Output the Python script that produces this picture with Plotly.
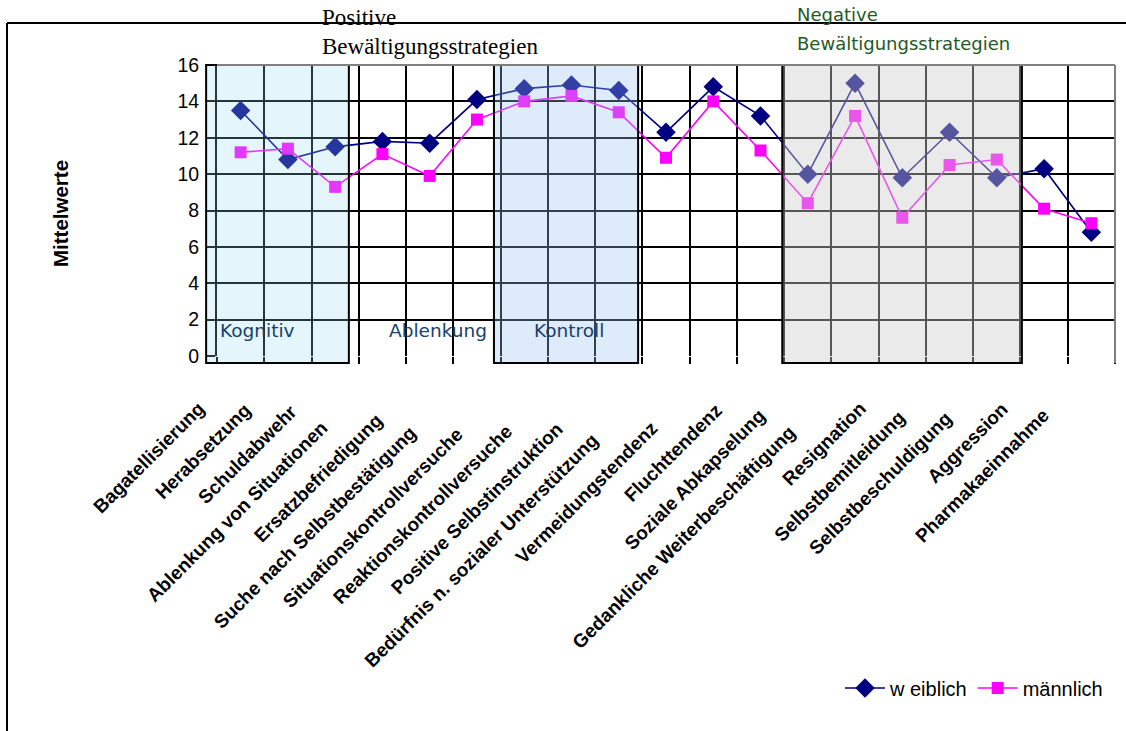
import plotly.graph_objects as go

# Bewältigungsstrategien (SVF-Skalen) und Mittelwerte nach Geschlecht
categories = [
    "Bagatellisierung", "Herabsetzung", "Schuldabwehr", "Ablenkung von Situationen",
    "Ersatzbefriedigung", "Suche nach Selbstbestätigung", "Situationskontrollversuche",
    "Reaktionskontrollversuche", "Positive Selbstinstruktion",
    "Bedürfnis n. sozialer Unterstützung", "Vermeidungstendenz", "Fluchttendenz",
    "Soziale Abkapselung", "Gedankliche Weiterbeschäftigung", "Resignation",
    "Selbstbemitleidung", "Selbstbeschuldigung", "Aggression", "Pharmakaeinnahme",
]
weiblich = [13.5, 10.8, 11.5, 11.8, 11.7, 14.1, 14.7, 14.9, 14.6, 12.3,
            14.8, 13.2, 10.0, 15.0, 9.8, 12.3, 9.8, 10.3, 6.8]
maennlich = [11.2, 11.4, 9.3, 11.1, 9.9, 13.0, 14.0, 14.3, 13.4, 10.9,
             14.0, 11.3, 8.4, 13.2, 7.6, 10.5, 10.8, 8.1, 7.3]
y_ticks = [0, 2, 4, 6, 8, 10, 12, 14, 16]

# extra distance (px, along the slanted text) between each category tick and its label
label_gap = [0, 2, 4, 27, 17, 35, 36, 33, 29, 45, 28, 3, 10, 34, 0, 13, 14, 0, 9]

W, H = 1126, 731
ML, MR, MT, MB = 217, 11, 65, 375
PW, PH = W - ML - MR, H - MT - MB
n = len(categories)
x_idx = list(range(n))


def px_x(px):
    return (px - ML) / PW


def px_y(py):
    return (H - MB - py) / PH


def cat_x(c):
    # category coordinate -> paper x
    return (c + 0.5) / n


fig = go.Figure()
fig.add_trace(go.Scatter(
    x=x_idx, y=weiblich, name="w eiblich", mode="lines+markers",
    line=dict(color="#000080", width=1.6),
    marker=dict(symbol="diamond", size=15, color="#000080"),
))
fig.add_trace(go.Scatter(
    x=x_idx, y=maennlich, name="männlich", mode="lines+markers",
    line=dict(color="#FF00FF", width=1.6),
    marker=dict(symbol="square", size=12, color="#FF00FF"),
))

shapes = []
# highlighted strategy groups
groups = [
    (-0.73, 2.29, "rgba(147,219,243,0.25)"),
    (5.36, 8.41, "rgba(153,195,243,0.33)"),
    (11.46, 16.53, "rgba(204,204,204,0.42)"),
]
y_bottom = -0.385 / 16
for c0, c1, fill in groups:
    shapes.append(dict(type="rect", xref="paper", yref="paper",
                       x0=cat_x(c0), x1=cat_x(c1), y0=y_bottom, y1=1,
                       fillcolor=fill, line=dict(color="black", width=2),
                       layer="above"))
# gray plot border (top/right)
shapes.append(dict(type="line", xref="paper", yref="paper", x0=0, x1=1, y0=1, y1=1,
                   line=dict(color="#808080", width=2), layer="above"))
shapes.append(dict(type="line", xref="paper", yref="paper", x0=1, x1=1,
                   y0=y_bottom, y1=1, line=dict(color="#808080", width=2),
                   layer="above"))
# outer frame
shapes.append(dict(type="line", xref="paper", yref="paper",
                   x0=px_x(7), x1=px_x(1130), y0=px_y(23), y1=px_y(23),
                   line=dict(color="black", width=2)))
shapes.append(dict(type="line", xref="paper", yref="paper",
                   x0=px_x(7), x1=px_x(7), y0=px_y(23), y1=px_y(740),
                   line=dict(color="black", width=2)))

annotations = []
for i, cat in enumerate(categories):
    d = label_gap[i] * 0.707
    annotations.append(dict(
        x=i, y=0, xref="x", yref="y", text=cat, showarrow=False,
        textangle=-45, xanchor="right", yanchor="top",
        xshift=-29 - d, yshift=-39 - d,
        font=dict(family="Liberation Sans, Arial", size=19, color="black",
                  weight="bold"),
    ))

group_font = dict(family="DejaVu Sans, Verdana", size=18.5, color="#17406d")
for label, left in [("Kognitiv", 218), ("Ablenkung", 387), ("Kontroll", 532)]:
    annotations.append(dict(x=px_x(left), y=px_y(330), xref="paper", yref="paper",
                            text=label, showarrow=False, xanchor="left",
                            yanchor="middle", font=group_font))

serif = dict(family="Liberation Serif, Times New Roman", size=23, color="black")
annotations.append(dict(x=px_x(320), y=px_y(18), xref="paper", yref="paper",
                        text="Positive", showarrow=False, xanchor="left",
                        yanchor="middle", font=serif))
annotations.append(dict(x=px_x(320), y=px_y(46), xref="paper", yref="paper",
                        text="Bewältigungsstrategien", showarrow=False,
                        xanchor="left", yanchor="middle", font=serif))
green = dict(family="DejaVu Sans, Verdana", size=18, color="#1e5a1e")
annotations.append(dict(x=px_x(795), y=px_y(15), xref="paper", yref="paper",
                        text="Negative", showarrow=False, xanchor="left",
                        yanchor="middle", font=green))
annotations.append(dict(x=px_x(795), y=px_y(43), xref="paper", yref="paper",
                        text="Bewältigungsstrategien", showarrow=False,
                        xanchor="left", yanchor="middle", font=green))
annotations.append(dict(x=px_x(60), y=px_y(214), xref="paper", yref="paper",
                        text="Mittelwerte", showarrow=False, textangle=-90,
                        xanchor="center", yanchor="middle",
                        font=dict(family="Liberation Sans, Arial", size=20.5,
                                  color="black", weight="bold")))

fig.update_layout(
    width=W, height=H, autosize=False,
    margin=dict(l=ML, r=MR, t=MT, b=MB, pad=0),
    paper_bgcolor="white", plot_bgcolor="white",
    showlegend=True,
    legend=dict(orientation="h", x=px_x(1108), xanchor="right",
                y=px_y(688), yanchor="middle",
                font=dict(family="Liberation Sans, Arial", size=20, color="black"),
                bgcolor="rgba(0,0,0,0)", itemwidth=40),
    shapes=shapes, annotations=annotations,
    font=dict(family="Liberation Sans, Arial", size=19, color="black"),
)
fig.update_xaxes(
    range=[-0.5, n - 0.5], tickvals=[i - 0.5 for i in range(n + 1)],
    showticklabels=False, showgrid=True, gridcolor="black", gridwidth=1.6,
    ticks="outside", ticklen=7, tickcolor="black", tickwidth=1.6,
    zeroline=False, showline=False,
)
fig.update_yaxes(
    range=[0, 16], tickvals=y_ticks, ticktext=[str(v) for v in y_ticks],
    showgrid=True, gridcolor="black", gridwidth=1.6,
    ticks="outside", ticklen=8, tickcolor="black", tickwidth=1.6,
    ticklabelstandoff=4,
    tickfont=dict(family="Liberation Sans, Arial", size=19.5, color="black"),
    zeroline=False, showline=True, linecolor="black", linewidth=2,
)

fig.write_html("out.html")
